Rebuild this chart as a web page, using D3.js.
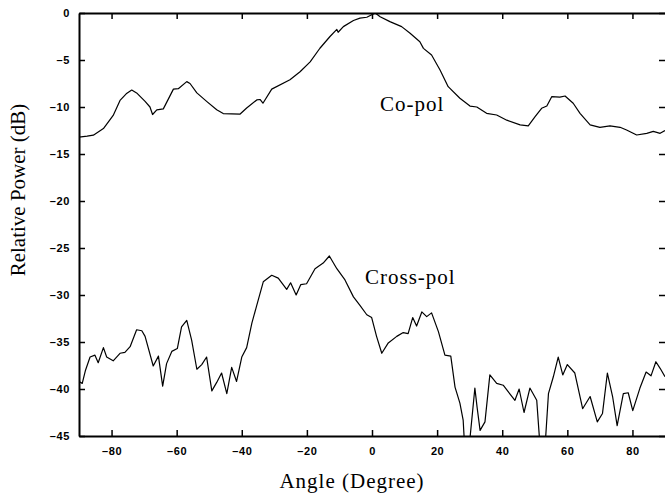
<!DOCTYPE html>
<meta charset="utf-8">
<style>
body { margin: 0; background: #fff; }
.tick text { font-family: "Liberation Sans", Arial; font-weight: bold; font-size: 11px; letter-spacing: 0.6px; fill: #000; }
.title { font-family: "Liberation Serif", "Times New Roman"; font-size: 21px; fill: #000; }
.curve { fill: none; stroke: #000; stroke-width: 1.2; stroke-linejoin: round; }
</style>
<body>
<svg width="665" height="498"></svg>
<script src="https://d3js.org/d3.v7.min.js"></script>
<script>

// co-pol: angle (deg), relative power (dB)
var coAngle = [-90,-87.5,-85.6,-82.5,-79.5,-77.4,-75.5,-73.8,-72.3,-69.7,-68.2,-67.4,-66.1,-64.1,-61,-59.5,-56.9,-55.9,-53.8,-50.8,-47.7,-45.7,-40.5,-38.5,-35.4,-34.4,-33.5,-30.8,-25.2,-22.1,-19,-16,-12.9,-10.8,-10.4,-8.8,-5.7,-3.7,-1.6,1,2.5,5.5,9.1,11.7,14.7,15.8,18.3,20.9,23.4,27,30.1,32.2,35.2,38.3,41.4,45.5,48,50.1,52.1,53.7,55.2,57.7,59.3,61.8,63.9,67,70,73.1,76.2,78.2,81.3,84.4,86.4,88.5,90];
var coPower = [-13.2,-13.1,-13,-12.3,-10.9,-9.3,-8.6,-8.2,-8.5,-9.4,-10,-10.8,-10.3,-10.2,-8.1,-8.05,-7.3,-7.5,-8.5,-9.4,-10.3,-10.7,-10.75,-10.1,-9.25,-9.2,-9.6,-8.1,-7.1,-6.25,-5.2,-3.75,-2.5,-1.75,-2.05,-1.45,-0.8,-0.55,-0.45,0,-0.4,-0.92,-1.45,-2.16,-3.05,-3.76,-4.47,-6.06,-7.84,-9.07,-9.9,-10,-10.67,-10.85,-11.4,-11.9,-12,-11.03,-10.14,-9.9,-8.9,-8.95,-8.83,-9.6,-10.67,-11.9,-12.16,-12,-12.16,-12.45,-12.98,-12.8,-12.6,-12.8,-12.5];

// cross-pol
var xpAngle = [-90,-89,-88,-86.6,-85.1,-84.1,-82.5,-81.5,-79.5,-77.4,-75.9,-74.3,-72.3,-70.7,-69.7,-67.2,-65.6,-64.3,-63.1,-61.5,-59.8,-58.5,-56.9,-55.4,-53.8,-52.3,-50.8,-49.2,-47.7,-46.2,-44.6,-43.1,-41.6,-40,-38.5,-36.9,-35.4,-33.4,-30.8,-28.8,-26.2,-25,-23.3,-21.9,-20.1,-17.5,-15,-13.1,-10.8,-8.3,-5.7,-3.7,-1.6,-0.1,1.4,3,5,7.6,9.6,11.1,12.5,13.7,15.3,16.8,18.3,20.4,22.4,24.2,25.5,27,28,28.6,29.6,31.6,32.3,33.2,34.7,36.2,38.3,40.3,43.9,45.2,46.7,48.5,50.6,51.8,53,54.2,55.7,57.2,58.6,60,62.3,64.7,67,69.2,70.8,72.3,73.9,75.3,77.2,78.7,80.1,82.3,84.2,85.7,87.2,88.5,90];
var xpPower = [-39.2,-39.4,-38,-36.6,-36.4,-37.2,-35.6,-36.6,-37,-36.2,-36.1,-35.5,-33.7,-33.8,-34.4,-37.55,-36.5,-39.7,-37.3,-36,-35.7,-33.4,-32.7,-34.8,-37.9,-37.4,-36.6,-40.2,-39.3,-38.3,-40.5,-37.7,-39.2,-36.6,-35.6,-33,-31.1,-28.6,-27.9,-28.2,-29.4,-28.7,-30,-28.9,-28.8,-27.2,-26.6,-25.85,-27.2,-28.4,-30.2,-31.1,-32.1,-32.4,-34.4,-36.2,-35.1,-34.4,-34,-34.1,-32.4,-33.3,-31.8,-32.3,-31.9,-33.9,-36.4,-36.5,-39.8,-41.5,-43.3,-47,-47,-39.9,-42,-44.4,-43.5,-38.5,-39.4,-39.6,-41.2,-40,-42.5,-39.9,-41.2,-47,-47,-40.5,-38.7,-36.6,-38.5,-37.4,-38.3,-42.1,-40.8,-43.5,-42.6,-38.3,-40.8,-43.9,-40.5,-40.4,-42.3,-39.9,-38.2,-38.6,-37.1,-37.8,-38.7];

var xTicks = [-80,-60,-40,-20,0,20,40,60,80];
var yTicks = [0,-5,-10,-15,-20,-25,-30,-35,-40,-45];

var svg = d3.select("svg"),
    plotLeft = 79, plotRight = 665, plotTop = 13, plotBottom = 436;

var x = d3.scaleLinear().domain([-90, 90]).range([plotLeft, plotRight]);
var y = d3.scaleLinear().domain([-45, 0]).range([plotBottom, plotTop]);

svg.append("clipPath").attr("id", "clip")
  .append("rect").attr("x", plotLeft).attr("y", plotTop)
  .attr("width", plotRight - plotLeft).attr("height", plotBottom - plotTop);

var line = d3.line()
    .x(function (d) { return x(d[0]); })
    .y(function (d) { return y(d[1]); });

var plot = svg.append("g").attr("clip-path", "url(#clip)");
plot.append("path").attr("class", "curve")
    .attr("d", line(d3.zip(coAngle, coPower)));
plot.append("path").attr("class", "curve")
    .attr("d", line(d3.zip(xpAngle, xpPower)));

// axes, ticks pointing inward
var fmt = function (d) { return d < 0 ? "\u2013" + Math.abs(d) : d; };

svg.append("g").attr("transform", "translate(0," + plotBottom + ")")
  .call(d3.axisBottom(x).tickValues(xTicks).tickSizeInner(-6).tickSizeOuter(0).tickPadding(11).tickFormat(fmt));
svg.append("g").attr("transform", "translate(0," + plotTop + ")")
  .call(d3.axisTop(x).tickValues(xTicks).tickSizeInner(-6).tickSizeOuter(0).tickFormat(""));
svg.append("g").attr("transform", "translate(" + plotLeft + ",0)")
  .call(d3.axisLeft(y).tickValues(yTicks).tickSizeInner(-6).tickSizeOuter(0).tickPadding(9).tickFormat(fmt));
var rightAxis = svg.append("g").attr("transform", "translate(" + plotRight + ",0)")
  .call(d3.axisRight(y).tickValues(yTicks).tickSizeInner(-6).tickSizeOuter(0).tickFormat(""));

svg.selectAll(".domain").attr("stroke", "#000").attr("stroke-width", 2);
rightAxis.select(".domain").remove();
svg.selectAll(".tick line").attr("stroke", "#000").attr("stroke-width", 1.5);

svg.append("text").attr("class", "title")
    .attr("x", 352).attr("y", 488).attr("text-anchor", "middle")
    .style("letter-spacing", "1px")
    .text("Angle (Degree)");
svg.append("text").attr("class", "title")
    .attr("transform", "translate(25,190) rotate(-90)")
    .attr("text-anchor", "middle")
    .text("Relative Power (dB)");

svg.append("text").attr("class", "title").attr("x", 380).attr("y", 111)
    .style("letter-spacing", "1px").text("Co-pol");
svg.append("text").attr("class", "title").attr("x", 365).attr("y", 284)
    .style("letter-spacing", "1px").text("Cross-pol");

</script>
</body>
